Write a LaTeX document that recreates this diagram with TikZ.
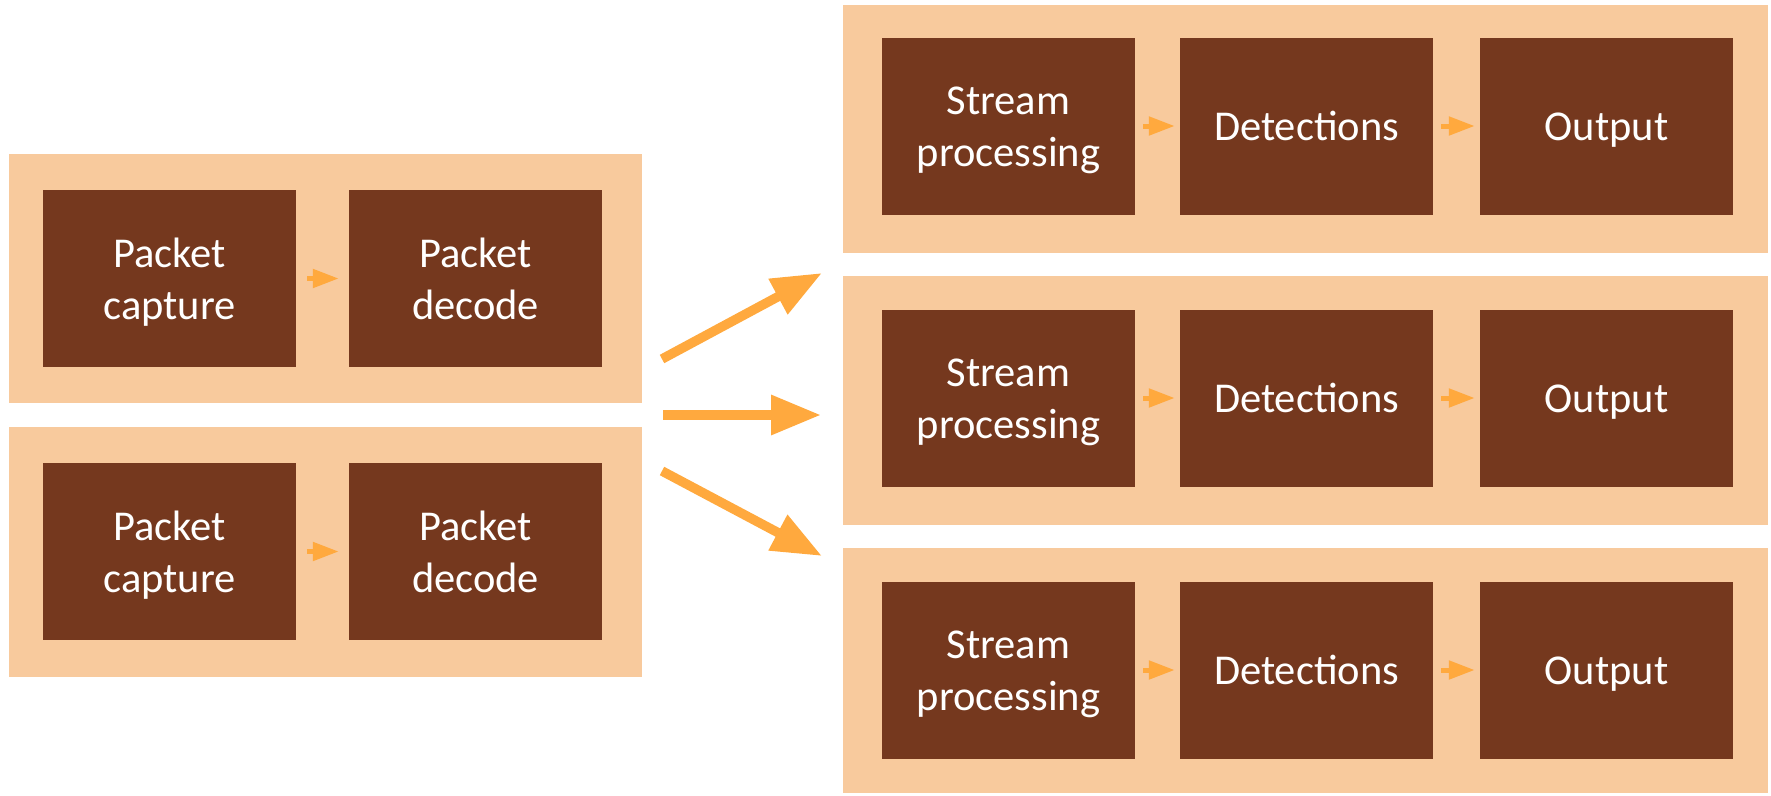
\documentclass[tikz,border=0pt]{standalone}
\usepackage{fontspec}
\setmainfont{Carlito}
\usetikzlibrary{arrows.meta}
\definecolor{peach}{HTML}{F8CA9D}
\definecolor{brownbox}{HTML}{75381E}
\definecolor{orangearr}{HTML}{FFA93E}
\newcommand\linestrut{\rule[-11pt]{0pt}{51pt}}
\begin{document}
\begin{tikzpicture}[x=1pt,y=-1pt,
  outerbox/.style={fill=peach,draw=none,inner sep=0pt,rectangle},
  stage/.style={fill=brownbox,draw=none,inner sep=0pt,rectangle,minimum width=253pt,minimum height=177pt,
    text=white,align=center,font=\fontsize{42.5}{52}\selectfont},
  bigarrow/.style={draw=orangearr,line width=9.5pt,-{Triangle[length=50pt,width=38pt]}},
  smallarrow/.style={draw=orangearr,line width=5pt,-{Triangle[length=26pt,width=18pt]}}]
\useasboundingbox (0,0) rectangle (1771,795);
% outer groups
\node[outerbox,minimum width=633pt,minimum height=249pt] (L1) at (325.5,278.5) {};
\node[outerbox,minimum width=633pt,minimum height=250pt] (L2) at (325.5,552) {};
\node[outerbox,minimum width=925pt,minimum height=248pt] (R1) at (1305.5,129) {};
\node[outerbox,minimum width=925pt,minimum height=249pt] (R2) at (1305.5,400.5) {};
\node[outerbox,minimum width=925pt,minimum height=245pt] (R3) at (1305.5,670.5) {};
% left stages
\node[stage] (cap1) at (169.5,278.5) {\linestrut Packet\\\linestrut capture};
\node[stage] (dec1) at (475.5,278.5) {\linestrut Packet\\\linestrut decode};
\node[stage] (cap2) at (169.5,551.5) {\linestrut Packet\\\linestrut capture};
\node[stage] (dec2) at (475.5,551.5) {\linestrut Packet\\\linestrut decode};
% right stages
\node[stage] (str1) at (1008.5,126) {\linestrut Stream\\\linestrut processing};
\node[stage] (det1) at (1306.5,126) {\linestrut Detections};
\node[stage] (out1) at (1606.5,126) {\linestrut Output};
\node[stage] (str2) at (1008.5,398) {\linestrut Stream\\\linestrut processing};
\node[stage] (det2) at (1306.5,398) {\linestrut Detections};
\node[stage] (out2) at (1606.5,398) {\linestrut Output};
\node[stage] (str3) at (1008.5,670) {\linestrut Stream\\\linestrut processing};
\node[stage] (det3) at (1306.5,670) {\linestrut Detections};
\node[stage] (out3) at (1606.5,670) {\linestrut Output};
% small arrows
\draw[smallarrow,shorten <=11pt,shorten >=10pt] (cap1) -- (dec1);
\draw[smallarrow,shorten <=11pt,shorten >=10pt] (cap2) -- (dec2);
\foreach \i in {1,2,3}{
  \draw[smallarrow,shorten <=8pt,shorten >=5pt] (str\i) -- (det\i);
  \draw[smallarrow,shorten <=8pt,shorten >=5pt] (det\i) -- (out\i);
}
% big arrows
\coordinate (s1) at (662,359);
\coordinate (e1) at (822,273);
\coordinate (s2) at (663,415);
\coordinate (e2) at (821,415);
\coordinate (s3) at (662,471);
\coordinate (e3) at (822,556);
\draw[bigarrow] (s1) -- (e1);
\draw[bigarrow] (s2) -- (e2);
\draw[bigarrow] (s3) -- (e3);
\end{tikzpicture}
\end{document}
